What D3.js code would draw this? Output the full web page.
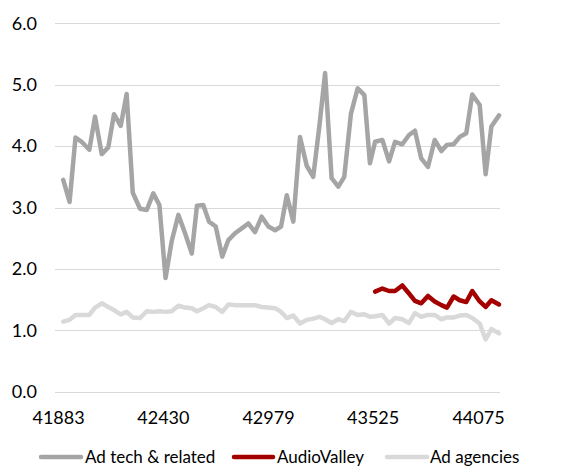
<!DOCTYPE html>
<html>
<head>
<meta charset="utf-8">
<script src="https://cdn.jsdelivr.net/npm/d3@7"></script>
<style>
  html, body { margin: 0; padding: 0; background: #fff; }
  svg text { font-family: Lato, "Open Sans", sans-serif; fill: #000; }
</style>
</head>
<body>
<svg id="chart" width="572" height="468"></svg>
<script>
// Observation dates (Excel serial day numbers)
const dates = [
  41910,41943,41974,42006,42046,42076,42111,42145,42175,42210,
  42241,42273,42311,42346,42380,42412,42444,42476,42511,42546,
  42581,42608,42641,42671,42706,42740,42772,42807,42842,42876,
  42911,42946,42981,43016,43047,43077,43111,43146,43181,43215,
  43248,43277,43311,43346,43377,43412,43447,43482,43511,43538,
  43576,43611,43642,43680,43715,43746,43779,43814,43849,43884,
  43913,43948,43980,44014,44045,44084,44115,44145,44185
];

const adTech = [
  3.45,3.09,4.14,4.07,3.94,4.48,3.87,3.98,4.52,4.33,
  4.85,3.24,2.98,2.96,3.23,3.04,1.85,2.45,2.88,2.58,
  2.25,3.03,3.04,2.77,2.69,2.20,2.47,2.58,2.66,2.74,
  2.60,2.85,2.69,2.63,2.69,3.20,2.77,4.15,3.68,3.50,
  4.35,5.19,3.48,3.34,3.50,4.53,4.94,4.83,3.72,4.07,
  4.10,3.75,4.07,4.03,4.18,4.25,3.80,3.66,4.10,3.92,
  4.02,4.03,4.15,4.21,4.84,4.67,3.54,4.32,4.50
];

// AudioValley is only quoted for the most recent stretch of dates
const audioValley = [
  1.63,1.68,1.64,1.64,1.73,1.60,1.48,1.44,1.56,1.47,
  1.41,1.37,1.55,1.49,1.46,1.64,1.47,1.38,1.49,1.42
];

const adAgencies = [
  1.14,1.17,1.25,1.25,1.25,1.37,1.44,1.38,1.33,1.26,
  1.30,1.21,1.20,1.31,1.30,1.31,1.30,1.31,1.40,1.37,
  1.36,1.31,1.36,1.41,1.38,1.30,1.42,1.41,1.41,1.41,
  1.41,1.38,1.37,1.36,1.30,1.20,1.24,1.11,1.17,1.19,
  1.22,1.18,1.12,1.18,1.15,1.30,1.25,1.26,1.22,1.23,
  1.25,1.11,1.20,1.18,1.12,1.28,1.22,1.25,1.25,1.18,
  1.21,1.21,1.24,1.25,1.20,1.11,0.85,1.02,0.95
];

const xTicks = [41883, 42430, 42979, 43525, 44075];
const yTicks = [0, 1, 2, 3, 4, 5, 6];

const seriesNames = ["Ad tech & related", "AudioValley", "Ad agencies"];
const seriesColors = ["#a5a5a5", "#a50000", "#d9d9d9"];

const svg = d3.select("#chart");

const x = d3.scaleLinear().domain([41867, 44190]).range([55, 500]);
const y = d3.scaleLinear().domain([0, 6]).range([391.7, 23.3]);

// Horizontal gridlines
svg.append("g")
  .selectAll("line")
  .data(yTicks)
  .join("line")
  .attr("x1", x.range()[0])
  .attr("x2", x.range()[1])
  .attr("y1", d => Math.round(y(d)) + 0.5)
  .attr("y2", d => Math.round(y(d)) + 0.5)
  .attr("stroke", "#d9d9d9")
  .attr("stroke-width", 1);

// Y axis labels
const yAxis = d3.axisLeft(y).tickValues(yTicks).tickFormat(d3.format(".1f")).tickSize(0).tickPadding(0);
svg.append("g")
  .attr("transform", "translate(37,0)")
  .call(yAxis)
  .call(g => g.select(".domain").remove())
  .call(g => g.selectAll("text").attr("font-size", 18).attr("font-family", "Lato, sans-serif").attr("fill", "#000"));

// X axis labels
const xAxis = d3.axisBottom(x).tickValues(xTicks).tickFormat(d3.format("d")).tickSize(0).tickPadding(0);
svg.append("g")
  .attr("transform", "translate(0,411)")
  .call(xAxis)
  .call(g => g.select(".domain").remove())
  .call(g => g.selectAll("text").attr("font-size", 18).attr("font-family", "Lato, sans-serif").attr("fill", "#000"));

const line = d3.line()
  .x(d => x(d[0]))
  .y(d => y(d[1]));

const avDates = dates.slice(dates.length - audioValley.length);
const series = [
  d3.zip(dates, adTech),
  d3.zip(avDates, audioValley),
  d3.zip(dates, adAgencies)
];

svg.append("g")
  .selectAll("path")
  .data(series)
  .join("path")
  .attr("d", line)
  .attr("fill", "none")
  .attr("stroke", (d, i) => seriesColors[i])
  .attr("stroke-width", 4.5)
  .attr("stroke-linejoin", "round")
  .attr("stroke-linecap", "round");

// Legend
const legendItems = [
  { x1: 41, x2: 81, tx: 85 },
  { x1: 234, x2: 273, tx: 277 },
  { x1: 387, x2: 427, tx: 430 }
];
const legend = svg.append("g").attr("transform", "translate(0,457)");
legend.selectAll("line")
  .data(legendItems)
  .join("line")
  .attr("x1", d => d.x1)
  .attr("x2", d => d.x2)
  .attr("y1", 0)
  .attr("y2", 0)
  .attr("stroke", (d, i) => seriesColors[i])
  .attr("stroke-width", 4.5)
  .attr("stroke-linecap", "round");
legend.selectAll("text")
  .data(legendItems)
  .join("text")
  .attr("x", d => d.tx)
  .attr("y", 0)
  .attr("dy", "0.35em")
  .attr("font-size", 17)
  .text((d, i) => seriesNames[i]);
</script>
</body>
</html>
